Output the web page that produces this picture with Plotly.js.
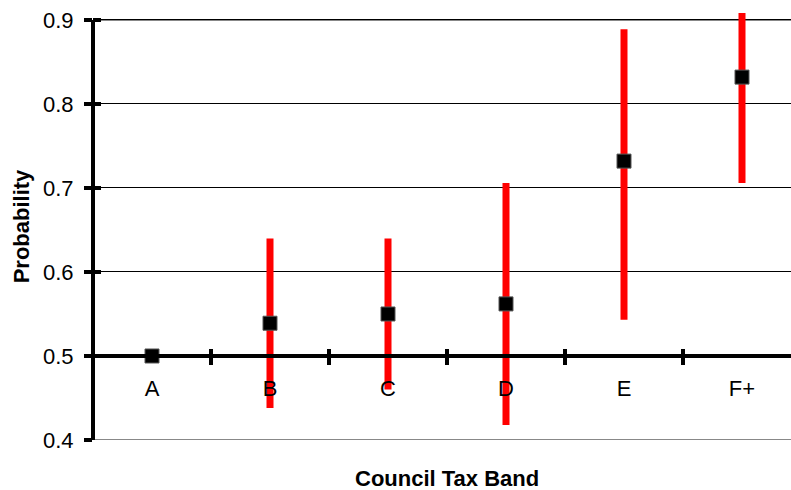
<!DOCTYPE html>
<html>
<head>
<meta charset="utf-8">
<script src="https://cdn.plot.ly/plotly-3.0.1.min.js"></script>
<style>
html,body{margin:0;padding:0;overflow:hidden;background:#fff;}
#chart{width:801px;height:490px;}
</style>
</head>
<body>
<div id="chart"></div>
<script>
// Data
var bands = ['A', 'B', 'C', 'D', 'E', 'F+'];
var probability = [0.500, 0.539, 0.550, 0.562, 0.732, 0.832];
var upperBound = [0.500, 0.640, 0.640, 0.706, 0.889, 0.958];
var lowerBound = [0.500, 0.438, 0.460, 0.418, 0.543, 0.706];
var yTicks = [0.4, 0.5, 0.6, 0.7, 0.8, 0.9];
var xTitle = 'Council Tax Band';
var yTitle = 'Probability';

var plus = probability.map(function (p, i) { return upperBound[i] - p; });
var minus = probability.map(function (p, i) { return p - lowerBound[i]; });

var FONT = 'Liberation Sans, Arial, sans-serif';
var yMin = 0.4, yMax = 0.9083;
var baseline = 0.5;
var axisPos = (baseline - yMin) / (yMax - yMin);

var traces = [{
  type: 'scatter',
  mode: 'markers',
  x: bands,
  y: probability,
  xaxis: 'x', yaxis: 'y',
  marker: {symbol: 'square', size: 14, color: '#000', line: {color: '#555', width: 1}},
  error_y: {type: 'data', symmetric: false, array: plus, arrayminus: minus,
            color: '#ff0000', thickness: 7, width: 0},
  showlegend: false,
  hoverinfo: 'x+y'
}, {
  // empty helper traces so the overlaid tick-only axes get drawn
  type: 'scatter', mode: 'markers', x: [], y: [], xaxis: 'x', yaxis: 'y2',
  showlegend: false, hoverinfo: 'skip'
}, {
  type: 'scatter', mode: 'markers', x: [], y: [], xaxis: 'x2', yaxis: 'y',
  showlegend: false, hoverinfo: 'skip'
}];

var layout = {
  width: 801, height: 490,
  margin: {l: 93, r: 0, t: 13, b: 50},
  paper_bgcolor: '#fff', plot_bgcolor: '#fff',
  font: {family: FONT, color: '#000', size: 22},
  xaxis: {
    type: 'category', categoryorder: 'array', categoryarray: bands,
    range: [-0.5, bands.length - 0.5],
    anchor: 'free', position: axisPos,
    showline: true, linecolor: '#000', linewidth: 4,
    showgrid: false, zeroline: false,
    ticks: 'outside', tickson: 'boundaries', ticklen: 7, tickwidth: 4, tickcolor: '#000',
    ticklabelstandoff: 12,
    tickfont: {family: FONT, size: 22, color: '#000'}
  },
  xaxis2: {
    type: 'category', categoryorder: 'array', categoryarray: bands,
    overlaying: 'x', matches: 'x',
    anchor: 'free', position: axisPos,
    showline: false, showgrid: false, zeroline: false,
    ticks: 'inside', tickson: 'boundaries', ticklen: 7, tickwidth: 4, tickcolor: '#000',
    showticklabels: false
  },
  yaxis: {
    range: [yMin, yMax], tickvals: yTicks, ticktext: yTicks.map(function (v) { return v.toFixed(1); }),
    showline: false, zeroline: false,
    showgrid: true, gridcolor: '#000', gridwidth: 1,
    ticks: 'outside', ticklen: 8, tickwidth: 4, tickcolor: '#000',
    ticklabelstandoff: 6,
    tickfont: {family: FONT, size: 22, color: '#000'},
    title: {text: yTitle, font: {family: FONT, size: 22, weight: 'bold', color: '#000'}, standoff: 7}
  },
  yaxis2: {
    overlaying: 'y', matches: 'y', anchor: 'x', side: 'left',
    range: [yMin, yMax], tickvals: yTicks,
    showline: false, showgrid: false, zeroline: false,
    ticks: 'inside', ticklen: 8, tickwidth: 4, tickcolor: '#000',
    showticklabels: false
  },
  shapes: [
    {type: 'line', xref: 'paper', yref: 'y', x0: 0, x1: 1, y0: yTicks[0], y1: yTicks[0],
     line: {color: '#888', width: 2}, layer: 'between'},
    {type: 'line', xref: 'paper', yref: 'y', x0: 0, x1: 1, y0: yTicks[yTicks.length - 1], y1: yTicks[yTicks.length - 1],
     line: {color: '#888', width: 2}, layer: 'between'},
    {type: 'line', xref: 'paper', yref: 'y', x0: 0, x1: 0, y0: yTicks[0], y1: yTicks[yTicks.length - 1],
     line: {color: '#000', width: 4}, layer: 'above'}
  ],
  annotations: [{
    text: xTitle, xref: 'paper', yref: 'paper', x: 0.5, y: -0.0913,
    xanchor: 'center', yanchor: 'middle', showarrow: false,
    font: {family: FONT, size: 22, weight: 'bold', color: '#000'}
  }]
};

Plotly.newPlot('chart', traces, layout, {displayModeBar: false, staticPlot: true});
</script>
</body>
</html>
